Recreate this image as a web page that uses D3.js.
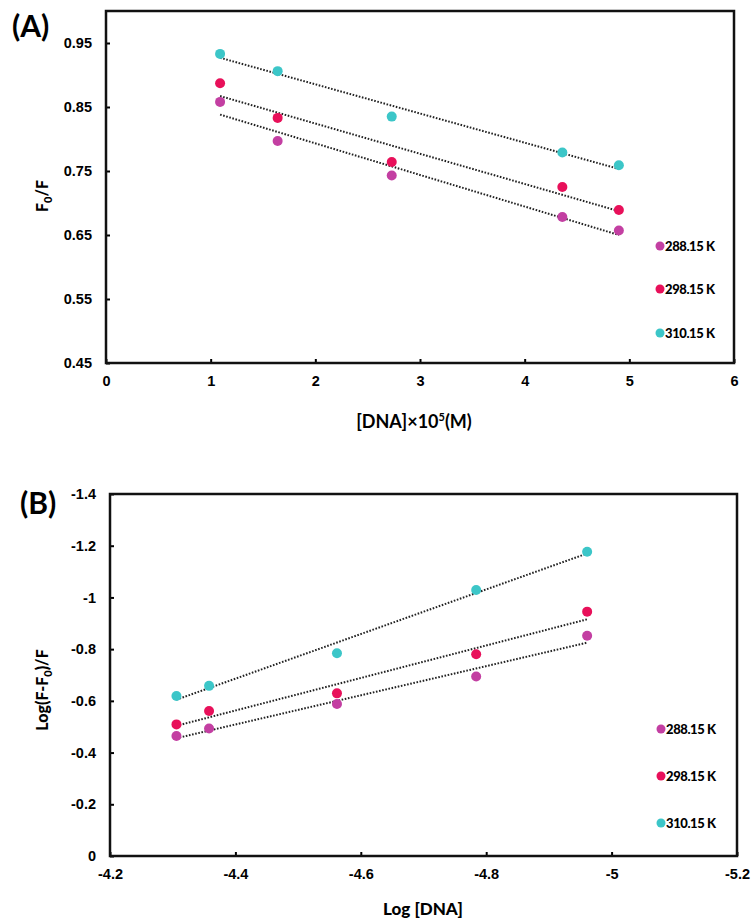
<!DOCTYPE html>
<html>
<head>
<meta charset="utf-8">
<script src="https://cdn.jsdelivr.net/npm/d3@7"></script>
<style>
  body { margin: 0; background: #fff; }
  svg { font-family: Lato, "Open Sans", sans-serif; }
  .tick text { font-weight: 900; font-size: 14.5px; fill: #000; }
</style>
</head>
<body>
<div id="chart"></div>
<script>
// temperatures (legend) and colours
var temps = ["288.15 K", "298.15 K", "310.15 K"];
var colors = ["#c33fa2", "#e8105a", "#3cc6c8"];

// panel A : [DNA]x10^5 vs F0/F
var concA = [1.09, 1.64, 2.73, 4.36, 4.90];
var ratio288 = [0.858, 0.797, 0.743, 0.678, 0.657];
var ratio298 = [0.887, 0.833, 0.764, 0.725, 0.689];
var ratio310 = [0.933, 0.906, 0.835, 0.779, 0.759];
var ticksAx = [0, 1, 2, 3, 4, 5, 6];
var ticksAy = [0.45, 0.55, 0.65, 0.75, 0.85, 0.95];

// panel B : log[DNA] vs log(F-F0)/F
var logDNA = [-4.306, -4.358, -4.562, -4.784, -4.961];
var log288 = [-0.464, -0.493, -0.588, -0.694, -0.852];
var log298 = [-0.509, -0.561, -0.629, -0.780, -0.945];
var log310 = [-0.619, -0.658, -0.784, -1.029, -1.177];
var ticksBx = [-4.2, -4.4, -4.6, -4.8, -5, -5.2];
var ticksBy = [0, -0.2, -0.4, -0.6, -0.8, -1, -1.2, -1.4];

var W = 755, H = 921;
var svg = d3.select("#chart").append("svg").attr("width", W).attr("height", H);

// plain hyphen minus like the original
function plain(d) { return String(d); }

function fit(xs, ys) {
  var mx = d3.mean(xs), my = d3.mean(ys);
  var sxy = d3.sum(xs, function(x, i) { return (x - mx) * (ys[i] - my); });
  var sxx = d3.sum(xs, function(x) { return (x - mx) * (x - mx); });
  var b = sxy / sxx;
  return function(x) { return my + b * (x - mx); };
}

function panel(o) {
  var g = svg.append("g");
  var x = d3.scaleLinear().domain(o.xdom).range([o.left, o.right]);
  var y = d3.scaleLinear().domain(o.ydom).range([o.bottom, o.top]);

  var xa = g.append("g").attr("transform", "translate(0," + o.bottom + ")")
    .call(d3.axisBottom(x).tickValues(o.xticks).tickSizeInner(-4).tickSizeOuter(0).tickPadding(13).tickFormat(o.xfmt));
  var ya = g.append("g").attr("transform", "translate(" + o.left + ",0)")
    .call(d3.axisLeft(y).tickValues(o.yticks).tickSizeInner(-4).tickSizeOuter(0).tickPadding(14).tickFormat(o.yfmt));
  [xa, ya].forEach(function(a) {
    a.select(".domain").remove();
    a.selectAll(".tick line").attr("stroke", "#000").attr("stroke-width", 2);
  });
  ya.selectAll(".tick text").attr("font-size", o.ytickSize);

  g.append("rect")
    .attr("x", o.left).attr("y", o.top)
    .attr("width", o.right - o.left).attr("height", o.bottom - o.top)
    .attr("fill", "none").attr("stroke", "#111").attr("stroke-width", 2.5);

  // dotted linear trendlines
  o.series.forEach(function(ys) {
    var f = fit(o.xs, ys);
    var xa0 = o.xs[0], xa1 = o.xs[o.xs.length - 1];
    g.append("line")
      .attr("x1", x(xa0)).attr("y1", y(f(xa0)))
      .attr("x2", x(xa1)).attr("y2", y(f(xa1)))
      .attr("stroke", "#222").attr("stroke-width", 2)
      .attr("stroke-dasharray", "1.6,1.6");
  });

  o.series.forEach(function(ys, k) {
    g.selectAll(null).data(ys).enter().append("circle")
      .attr("cx", function(d, i) { return x(o.xs[i]); })
      .attr("cy", function(d) { return y(d); })
      .attr("r", 5)
      .attr("fill", colors[k]);
  });

  // legend
  temps.forEach(function(t, k) {
    var ly = o.legY[k];
    g.append("circle").attr("cx", o.legX).attr("cy", ly).attr("r", 4.5).attr("fill", colors[k]);
    g.append("text").attr("x", o.legX + 5).attr("y", ly + 4.5)
      .attr("font-size", 13).attr("font-weight", 900).attr("letter-spacing", "-0.4")
      .text(t);
  });

  // panel letter
  g.append("text").attr("x", o.letterX).attr("y", o.letterY)
    .attr("font-size", 30).attr("font-weight", "bold").text(o.letter);

  return { x: x, y: y, g: g };
}

var A = panel({
  letter: "(A)", letterX: 12, letterY: 37,
  left: 106, right: 734, top: 11, bottom: 363,
  xdom: [0, 6], ydom: [0.45, 1.0],
  xticks: ticksAx, yticks: ticksAy,
  xfmt: d3.format("d"), yfmt: d3.format(".2f"), ytickSize: 14.5,
  xs: concA, series: [ratio288, ratio298, ratio310],
  legX: 660, legY: [246, 289, 333]
});

A.g.append("text").attr("transform", "translate(48,196) rotate(-90)")
  .attr("text-anchor", "middle").attr("font-size", 16).attr("font-weight", 900)
  .call(function(t) {
    t.append("tspan").text("F");
    t.append("tspan").attr("font-size", 11).attr("dy", 4).text("0");
    t.append("tspan").attr("dy", -4).text("/F");
  });

A.g.append("text").attr("x", 414).attr("y", 428)
  .attr("text-anchor", "middle").attr("font-size", 18).attr("font-weight", "bold")
  .call(function(t) {
    t.append("tspan").text("[DNA]\u00d710");
    t.append("tspan").attr("font-size", 11).attr("dy", -7).text("5");
    t.append("tspan").attr("dy", 7).text("(M)");
  });

var B = panel({
  letter: "(B)", letterX: 20, letterY: 514,
  left: 110, right: 737, top: 494, bottom: 856,
  xdom: [-4.2, -5.2], ydom: [0, -1.4],
  xticks: ticksBx, yticks: ticksBy,
  xfmt: plain, yfmt: plain, ytickSize: 13.5,
  xs: logDNA, series: [log288, log298, log310],
  legX: 661, legY: [729, 776, 823]
});

B.g.append("text").attr("transform", "translate(48,690) rotate(-90)")
  .attr("text-anchor", "middle").attr("font-size", 16).attr("font-weight", 900)
  .call(function(t) {
    t.append("tspan").text("Log(F-F");
    t.append("tspan").attr("font-size", 11).attr("dy", 4).text("0");
    t.append("tspan").attr("dy", -4).text(")/F");
  });

B.g.append("text").attr("x", 423).attr("y", 915)
  .attr("text-anchor", "middle").attr("font-size", 17).attr("font-weight", 900)
  .text("Log [DNA]");
</script>
</body>
</html>
